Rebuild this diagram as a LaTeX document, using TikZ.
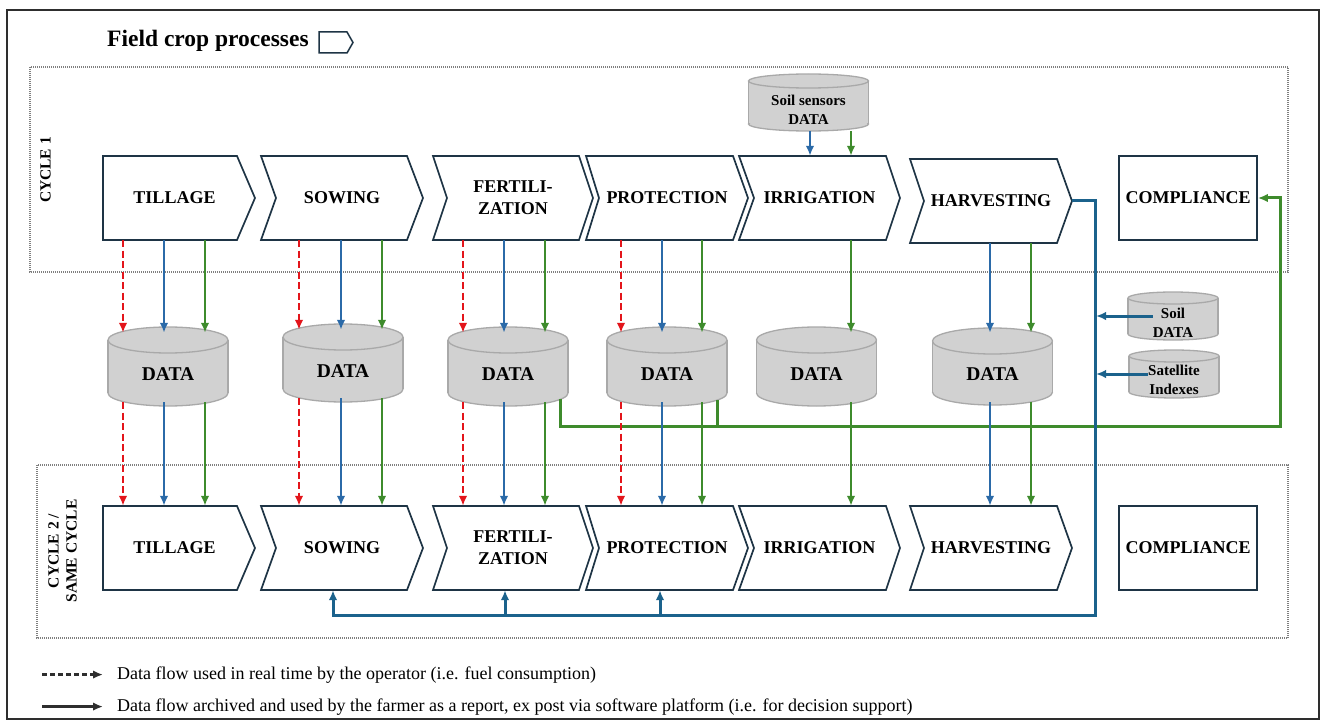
\documentclass[tikz,border=0pt]{standalone}
\usepackage{fontspec}
\setmainfont{Liberation Serif}
\usetikzlibrary{arrows.meta}
\definecolor{chevc}{HTML}{1E3445}
\definecolor{cylg}{HTML}{D1D1D1}
\definecolor{cyle}{HTML}{A9A9A9}
\definecolor{redc}{HTML}{E3151B}
\definecolor{bluc}{HTML}{2B6AA8}
\definecolor{grnc}{HTML}{3E8B2C}
\definecolor{fbc}{HTML}{1B628C}
\definecolor{dotc}{HTML}{7F7F7F}
\definecolor{legc}{HTML}{2E2E2E}
\newcommand\chevshape[6]{\draw[chevline] (#1,#5) -- (#3,#5) -- (#4,{(#5+#6)/2}) -- (#3,#6) -- (#1,#6) -- (#2,{(#5+#6)/2}) -- cycle;}
\newcommand\cylshape[5]{%
  \fill[cylg] ({#1-#4},{#2+#5}) rectangle ({#1+#4},{#3-#5});
  \fill[cylg] (#1,{#3-#5}) ellipse[x radius=#4, y radius=#5];
  \draw[cylline] ({#1-#4},{#2+#5}) -- ({#1-#4},{#3-#5});
  \draw[cylline] ({#1+#4},{#2+#5}) -- ({#1+#4},{#3-#5});
  \begin{scope}
    \clip ({#1-#4-3},{#3-#5}) rectangle ({#1+#4+3},{#3+3});
    \draw[cylline] (#1,{#3-#5}) ellipse[x radius=#4, y radius=#5];
  \end{scope}
  \filldraw[cylline, fill=cylg] (#1,{#2+#5}) ellipse[x radius=#4, y radius=#5];}
\begin{document}
\begin{tikzpicture}[x=1pt,y=-1pt,
  chevline/.style={draw=chevc, line width=1.7pt, fill=white, line join=miter},
  plab/.style={font=\fontsize{18}{22}\selectfont\bfseries, inner sep=0pt, minimum height=84pt, align=center, text=black},
  compbox/.style={plab, draw=chevc, line width=1.7pt, fill=white, minimum width=138pt},
  cylline/.style={draw=cyle, line width=1.3pt},
  dnode/.style={font=\fontsize{19.5}{22}\selectfont\bfseries, inner sep=0pt, minimum width=120pt, text height=26pt, text depth=0pt},
  snode/.style={font=\fontsize{15}{19}\selectfont\bfseries, inner sep=0pt, align=center},
  arrtip/.style={-{Latex[length=10pt,width=8.5pt]}},
  redarr/.style={arrtip, draw=redc, line width=2.5pt, dash pattern=on 7pt off 3.5pt},
  bluarr/.style={arrtip, draw=bluc, line width=2.4pt},
  grnarr/.style={arrtip, draw=grnc, line width=2.4pt},
  fbline/.style={draw=fbc, line width=3pt},
  fgline/.style={draw=grnc, line width=3pt},
  dotbox/.style={draw=dotc, line width=1.2pt, dash pattern=on 1pt off 1pt},
  cyclab/.style={font=\fontsize{15.5}{18}\selectfont\bfseries, rotate=90, align=center, inner sep=0pt},
  legtext/.style={font=\fontsize{18}{20}\selectfont, inner sep=0pt, anchor=base west},
  legarr/.style={-{Latex[length=10pt,width=8.5pt]}, draw=legc, line width=2.5pt},
]
\useasboundingbox (0,0) rectangle (1322,722);
\fill[white] (0,0) rectangle (1322,722);
\draw[line width=1.8pt, draw=legc] (7,10) rectangle (1319,719);

% title
\node[font=\fontsize{23.5}{26}\selectfont\bfseries, anchor=base west, inner sep=0pt] (title) at (107,47) {Field crop processes};
\draw[draw=chevc, line width=1.5pt, line join=miter] (319,32) -- (347,32) -- (353,42.5) -- (347,53) -- (319,53) -- cycle;

% cycle boxes
\draw[dotbox] (30,67) rectangle (1288,272);
\draw[dotbox] (37,465) rectangle (1288,638);
\node[cyclab] (c1) at (45.5,170) {CYCLE 1};
\node[cyclab] (c2) at (62.5,551) {CYCLE 2 /\\SAME CYCLE};

% top row chevrons
\chevshape{103}{103}{237}{255}{156}{240}
\chevshape{261}{276}{407}{423}{156}{240}
\chevshape{433}{447}{579}{593}{156}{240}
\chevshape{586}{599}{733}{748}{156}{240}
\chevshape{739}{754}{886}{900}{156}{240}
\chevshape{910}{924}{1057}{1072}{159}{243}
\node[plab, minimum width=152pt] (tilT) at (179,198) {TILLAGE\hspace*{9pt}};
\node[plab, minimum width=162pt] (sowT) at (342,198) {SOWING};
\node[plab, minimum width=160pt] (ferT) at (513,198) {FERTILI-\\ZATION};
\node[plab, minimum width=162pt] (proT) at (667,198) {PROTECTION};
\node[plab, minimum width=161pt] (irrT) at (819.5,198) {IRRIGATION};
\node[plab, minimum width=162pt] (harT) at (991,201) {HARVESTING};
\node[compbox] (comT) at (1188,198) {COMPLIANCE};

% bottom row chevrons
\chevshape{103}{103}{237}{255}{506}{590}
\chevshape{261}{276}{407}{423}{506}{590}
\chevshape{433}{447}{579}{593}{506}{590}
\chevshape{586}{599}{733}{748}{506}{590}
\chevshape{739}{754}{886}{900}{506}{590}
\chevshape{910}{924}{1057}{1072}{506}{590}
\node[plab, minimum width=152pt] (tilB) at (179,548) {TILLAGE\hspace*{9pt}};
\node[plab, minimum width=162pt] (sowB) at (342,548) {SOWING};
\node[plab, minimum width=160pt] (ferB) at (513,548) {FERTILI-\\ZATION};
\node[plab, minimum width=162pt] (proB) at (667,548) {PROTECTION};
\node[plab, minimum width=161pt] (irrB) at (819.5,548) {IRRIGATION};
\node[plab, minimum width=162pt] (harB) at (991,548) {HARVESTING};
\node[compbox] (comB) at (1188,548) {COMPLIANCE};

% cylinders
\cylshape{168}{327}{406}{60}{13}
\cylshape{343}{324}{402}{60}{13}
\cylshape{508}{327}{406}{60}{13}
\cylshape{667}{327}{406}{60}{13}
\cylshape{816.5}{327}{406}{60}{13}
\cylshape{992.5}{328}{405}{60}{13}
\node[dnode, minimum height=69pt] (d1) at (168,367.5) {DATA};
\node[dnode, minimum height=68pt] (d2) at (343,364) {DATA};
\node[dnode, minimum height=69pt] (d3) at (508,367.5) {DATA};
\node[dnode, minimum height=69pt] (d4) at (667,367.5) {DATA};
\node[dnode, minimum height=69pt] (d5) at (816.5,367.5) {DATA};
\node[dnode, minimum height=69pt] (d6) at (992.5,367.5) {DATA};

\cylshape{808.5}{74}{131}{60}{7}
\node[snode, minimum height=43pt] (sens) at (808.5,109.5) {Soil sensors\\DATA};
\cylshape{1173}{292}{340}{45}{6}
\node[snode] (soil) at (1173,322.5) {Soil\\DATA};
\cylshape{1174}{350}{398}{45}{6}
\node[snode] (sat) at (1174,380) {Satellite\\Indexes};

% green feedback to compliance
\coordinate (gfb) at (1280,426);
\coordinate (gj4) at (717,426);
\draw[fgline, arrtip, shorten <=-3pt] (d3.south -| 560,0) |- (gfb) |- (comT.east);
\draw[fgline, shorten <=-2pt] (d4.south -| 717,0) -- (gj4);

% blue feedback from harvesting
\coordinate (bfb) at (1095,615);
\coordinate (soilin) at (1096,316);
\coordinate (satin) at (1096,374);
\draw[fbline, arrtip] (harT.east) -| (bfb) -| (sowB.south -| 333,0);
\draw[fbline, arrtip] (bfb -| 505,0) -- (ferB.south -| 505,0);
\draw[fbline, arrtip] (bfb -| 660,0) -- (proB.south -| 660,0);
\draw[fbline, arrtip] (soil.west |- soilin) -- (soilin);
\draw[fbline, arrtip] (sat.west |- satin) -- (satin);

% column flows
\foreach \tp/\dd/\bt/\xr/\xb/\xg in {tilT/d1/tilB/123/164/205, sowT/d2/sowB/299/341/382, ferT/d3/ferB/463/504/545, proT/d4/proB/621/662/702} {
  \draw[redarr] (\tp.south -| \xr,0) -- (\dd.north -| \xr,0);
  \draw[bluarr] (\tp.south -| \xb,0) -- (\dd.north -| \xb,0);
  \draw[grnarr] (\tp.south -| \xg,0) -- (\dd.north -| \xg,0);
  \draw[redarr] (\dd.south -| \xr,0) -- (\bt.north -| \xr,0);
  \draw[bluarr] (\dd.south -| \xb,0) -- (\bt.north -| \xb,0);
  \draw[grnarr] (\dd.south -| \xg,0) -- (\bt.north -| \xg,0);
}
\draw[grnarr] (irrT.south -| 851,0) -- (d5.north -| 851,0);
\draw[grnarr] (d5.south -| 851,0) -- (irrB.north -| 851,0);
\draw[bluarr] (harT.south -| 990,0) -- (d6.north -| 990,0);
\draw[grnarr] (harT.south -| 1031,0) -- (d6.north -| 1031,0);
\draw[bluarr] (d6.south -| 990,0) -- (harB.north -| 990,0);
\draw[grnarr] (d6.south -| 1031,0) -- (harB.north -| 1031,0);
\draw[bluarr] (sens.south -| 810,0) -- (irrT.north -| 810,0);
\draw[grnarr] (sens.south -| 851,0) -- (irrT.north -| 851,0);

% legend
\coordinate (lgx) at (42,0);
\node[legtext] (lg1) at (117,679) {Data flow used in real time by the operator (i.e. fuel consumption)};
\node[legtext] (lg2) at (117,711) {Data flow archived and used by the farmer as a report, ex post via software platform (i.e. for decision support)};
\draw[legarr, dash pattern=on 5pt off 3pt] (lg1.west -| lgx) -- ([xshift=-14pt]lg1.west);
\draw[legarr] (lg2.west -| lgx) -- ([xshift=-14pt]lg2.west);
\end{tikzpicture}
\end{document}
